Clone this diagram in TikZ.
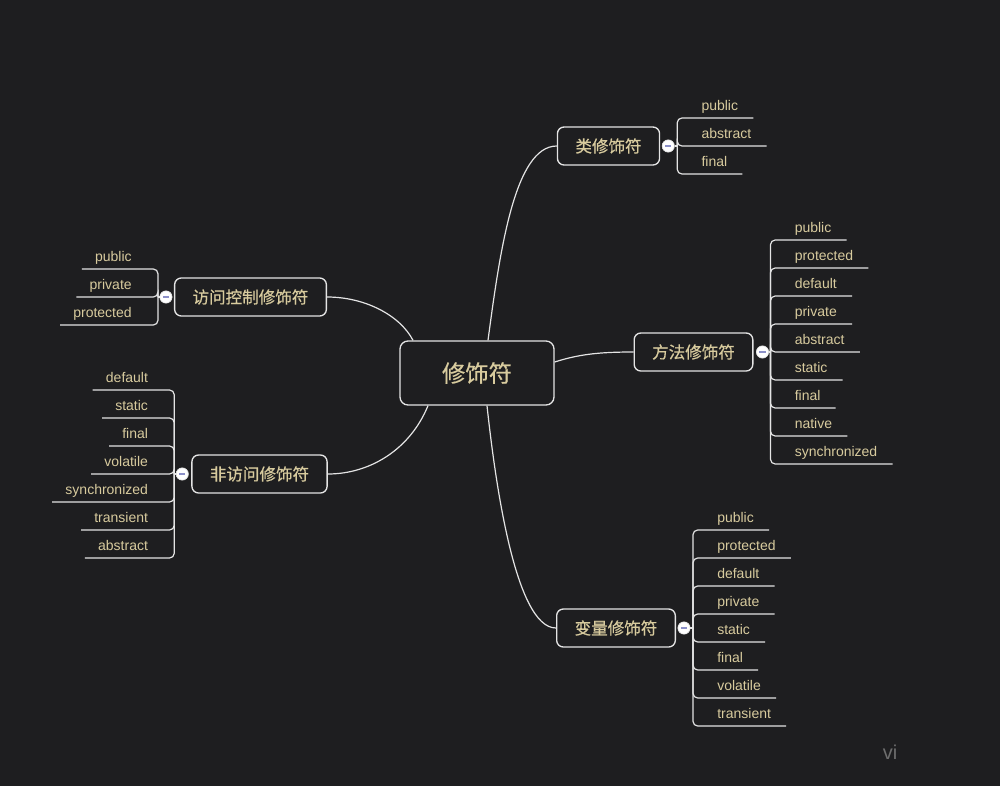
\documentclass[tikz,border=0pt]{standalone}
\usepackage{fontspec}
\setmainfont{Liberation Sans}
\newfontfamily\cjk[BoldFont={Noto Sans CJK SC},BoldFeatures={FakeBold=0.5}]{Noto Sans CJK SC}
\usetikzlibrary{calc}
\definecolor{bg}{HTML}{1E1E20}
\definecolor{ink}{HTML}{D8CB9E}
\definecolor{edge}{HTML}{E4E4E4}
\definecolor{foldbar}{HTML}{8C90C8}
\definecolor{mark}{HTML}{6E6E6E}
\tikzset{
  root/.style={draw=edge,line width=1pt,rounded corners=6pt,fill=bg,text=ink,
    font=\cjk\bfseries\fontsize{17.5}{20}\selectfont,minimum width=115.5pt,minimum height=48pt},
  topic/.style={draw=edge,line width=1pt,rounded corners=5pt,fill=bg,text=ink,
    font=\cjk\bfseries\fontsize{12.4}{15}\selectfont,inner xsep=13.5pt,minimum height=28.5pt},
  leaf/.style={text=ink,font=\fontsize{10.5}{12}\selectfont,inner sep=0pt},
  link/.style={draw=edge,line width=0.9pt},
  twig/.style={draw=edge,line width=0.9pt,rounded corners=3.5pt},
  fold/.style={circle,fill=white,draw=edge,line width=0.5pt,minimum size=9.2pt,inner sep=0pt,
    path picture={\draw[foldbar,line width=1pt]
      ([xshift=-2.4pt]path picture bounding box.center) -- ([xshift=2.4pt]path picture bounding box.center);}},
}

\begin{document}
\begin{tikzpicture}[x=0.75pt,y=-0.75pt]
  \useasboundingbox (0,0) rectangle (1000,786);
  \fill[bg] (0,0) rectangle (1000,786);

  % topics
  \node[root] (root) at (477,373) {修饰符};
  \node[topic] (cls) at (608.5,146) {类修饰符};
  \node[topic] (meth) at (693.5,352) {方法修饰符};
  \node[topic] (var) at (616,628) {变量修饰符};
  \node[topic] (acc) at (250.5,297) {访问控制修饰符};
  \node[topic] (non) at (259.5,474) {非访问修饰符};

  \draw[link] ($(root.north)+(11,0)$) .. controls +(12,-90) and +(-42,0) .. (cls.west);
  \draw[link] ($(root.east)+(0,-11)$) .. controls +(25,-8) and +(-33,0) .. (meth.west);
  \draw[link] ($(root.south)+(10,0)$) .. controls +(8,74) and +(-41,0) .. (var.west);
  \draw[link] ($(root.north)+(-64,0)$) .. controls +(-13,-25) and +(38,0) .. (acc.east);
  \draw[link] ($(root.south)+(-49,0)$) .. controls +(-18,44) and +(42,0) .. (non.east);

  % right side leaves
  \node[fold] (cls-dot) at ($(cls.east)+(8,0)$) {};
  \coordinate (cls-j) at ($(cls-dot)+(9,0)$);
  \draw[link] (cls-dot.east) -- (cls-j);
  \foreach \w [count=\i, evaluate=\i as \y using 90+28*\i] in {public,abstract,final}{
    \node[leaf,anchor=base west] (cls-\i) at ($(cls-j |- 0,\y)+(24,-8)$) {\w};
    \draw[twig] (cls-j) |- ($(cls-\i.base east)+(15,8)$);
  }

  \node[fold] (meth-dot) at ($(meth.east)+(9,0)$) {};
  \coordinate (meth-j) at ($(meth-dot)+(8,0)$);
  \draw[link] (meth-dot.east) -- (meth-j);
  \foreach \w [count=\i, evaluate=\i as \y using 212+28*\i] in
    {public,protected,default,private,abstract,static,final,native,synchronized}{
    \node[leaf,anchor=base west] (meth-\i) at ($(meth-j |- 0,\y)+(24,-8)$) {\w};
    \draw[twig] (meth-j) |- ($(meth-\i.base east)+(15,8)$);
  }

  \node[fold] (var-dot) at ($(var.east)+(8,0)$) {};
  \coordinate (var-j) at ($(var-dot)+(9,0)$);
  \draw[link] (var-dot.east) -- (var-j);
  \foreach \w [count=\i, evaluate=\i as \y using 502+28*\i] in
    {public,protected,default,private,static,final,volatile,transient}{
    \node[leaf,anchor=base west] (var-\i) at ($(var-j |- 0,\y)+(24,-8)$) {\w};
    \draw[twig] (var-j) |- ($(var-\i.base east)+(15,8)$);
  }

  % left side leaves
  \node[fold] (acc-dot) at ($(acc.west)+(-8,0)$) {};
  \coordinate (acc-j) at ($(acc-dot)+(-8,0)$);
  \draw[link] (acc-dot.west) -- (acc-j);
  \foreach \w [count=\i, evaluate=\i as \y using 241+28*\i] in {public,private,protected}{
    \node[leaf,anchor=base east] (acc-\i) at ($(acc-j |- 0,\y)+(-26,-8)$) {\w};
    \draw[twig] (acc-j) |- ($(acc-\i.base west)+(-13,8)$);
  }

  \node[fold] (non-dot) at ($(non.west)+(-9,0)$) {};
  \coordinate (non-j) at ($(non-dot)+(-8,0)$);
  \draw[link] (non-dot.west) -- (non-j);
  \foreach \w [count=\i, evaluate=\i as \y using 362+28*\i] in
    {default,static,final,volatile,synchronized,transient,abstract}{
    \node[leaf,anchor=base east] (non-\i) at ($(non-j |- 0,\y)+(-26,-8)$) {\w};
    \draw[twig] (non-j) |- ($(non-\i.base west)+(-13,8)$);
  }

  \node[text=mark,font=\fontsize{15}{18}\selectfont] (sign) at (890,752) {vi};
\end{tikzpicture}
\end{document}
